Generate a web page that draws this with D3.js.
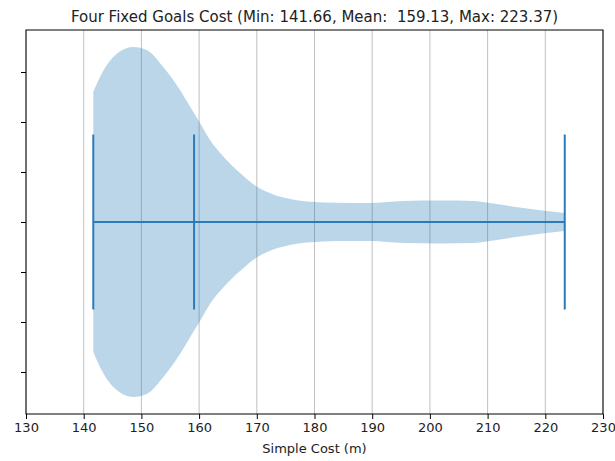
<!DOCTYPE html>
<html>
<head>
<meta charset="utf-8">
<script src="https://cdn.jsdelivr.net/npm/d3@7"></script>
<style>
  body { margin: 0; background: #fff; }
  text { font-family: "DejaVu Sans", sans-serif; }
</style>
</head>
<body>
<script>
// violin outline: cost (m) and half width (axis units)
var costs = [141.66, 142.82, 145.13, 148.6, 150.92, 153.8, 156.69, 158.42, 160.16, 161.89,
             164.19, 167.09, 169.98, 172.86, 175.75, 181.53, 186.15, 189.6, 195.4, 201.75,
             207.52, 210.42, 216.19, 223.37];
var halfWidths = [0.26, 0.29, 0.33, 0.35, 0.344, 0.31, 0.264, 0.231, 0.198, 0.164,
                  0.131, 0.098, 0.071, 0.055, 0.046, 0.039, 0.038, 0.038, 0.042, 0.043,
                  0.042, 0.038, 0.028, 0.018];
var stats = [141.66, 159.13, 223.37];   // min, mean, max
var xTicks = [130, 140, 150, 160, 170, 180, 190, 200, 210, 220, 230];
var yTicks = [0.7, 0.8, 0.9, 1.0, 1.1, 1.2, 1.3];
var position = 1;
var barHalf = 0.175;

const width = 615;
const height = 461;
const margin = {top: 30, right: 12, bottom: 47, left: 26};

var svg = d3.select("body").append("svg")
    .attr("width", width)
    .attr("height", height);

var x = d3.scaleLinear().domain([130, 230])
    .range([margin.left, width - margin.right]);
var y = d3.scaleLinear().domain([0.616, 1.384])
    .range([height - margin.bottom, margin.top]);

// vertical grid
svg.append("g").selectAll("line")
    .data(xTicks)
    .enter().append("line")
    .attr("x1", d => x(d)).attr("x2", d => x(d))
    .attr("y1", margin.top).attr("y2", height - margin.bottom)
    .attr("stroke", "#b0b0b0")
    .attr("stroke-width", 0.8);

// violin body
var data = costs.map((c, i) => ({c: c, w: halfWidths[i]}));
var area = d3.area()
    .x(d => x(d.c))
    .y0(d => y(position - d.w))
    .y1(d => y(position + d.w))
    .curve(d3.curveMonotoneX);

svg.append("path")
    .datum(data)
    .attr("d", area)
    .attr("fill", "#1f77b4")
    .attr("fill-opacity", 0.3);

// min / mean / max bars and the horizontal range line
var barColor = "#2b7bba";
svg.append("line")
    .attr("x1", x(stats[0])).attr("x2", x(stats[2]))
    .attr("y1", y(position)).attr("y2", y(position))
    .attr("stroke", barColor).attr("stroke-width", 2);

svg.append("g").selectAll("line")
    .data(stats)
    .enter().append("line")
    .attr("x1", d => x(d)).attr("x2", d => x(d))
    .attr("y1", y(position - barHalf)).attr("y2", y(position + barHalf))
    .attr("stroke", barColor).attr("stroke-width", 2);

// axes
var xAxis = svg.append("g")
    .attr("transform", "translate(0," + (height - margin.bottom) + ")")
    .call(d3.axisBottom(x).tickValues(xTicks).tickSize(5).tickPadding(4));
xAxis.select(".domain").remove();
xAxis.selectAll("text").attr("font-size", 13).attr("fill", "#222")
    .style("font-family", "DejaVu Sans, sans-serif");

var yAxis = svg.append("g")
    .attr("transform", "translate(" + margin.left + ",0)")
    .call(d3.axisLeft(y).tickValues(yTicks).tickSize(5).tickFormat(""));
yAxis.select(".domain").remove();

// frame
svg.append("rect")
    .attr("x", margin.left).attr("y", margin.top)
    .attr("width", width - margin.left - margin.right)
    .attr("height", height - margin.top - margin.bottom)
    .attr("fill", "none")
    .attr("stroke", "#000")
    .attr("stroke-width", 1);

// title and label
svg.append("text")
    .attr("x", (margin.left + width - margin.right) / 2)
    .attr("y", 22)
    .attr("text-anchor", "middle")
    .attr("font-size", 15)
    .attr("fill", "#222")
    .style("white-space", "pre")
    .text("Four Fixed Goals Cost (Min: 141.66, Mean:  159.13, Max: 223.37)");

svg.append("text")
    .attr("x", (margin.left + width - margin.right) / 2)
    .attr("y", 453)
    .attr("text-anchor", "middle")
    .attr("font-size", 13)
    .attr("fill", "#222")
    .text("Simple Cost (m)");
</script>
</body>
</html>
